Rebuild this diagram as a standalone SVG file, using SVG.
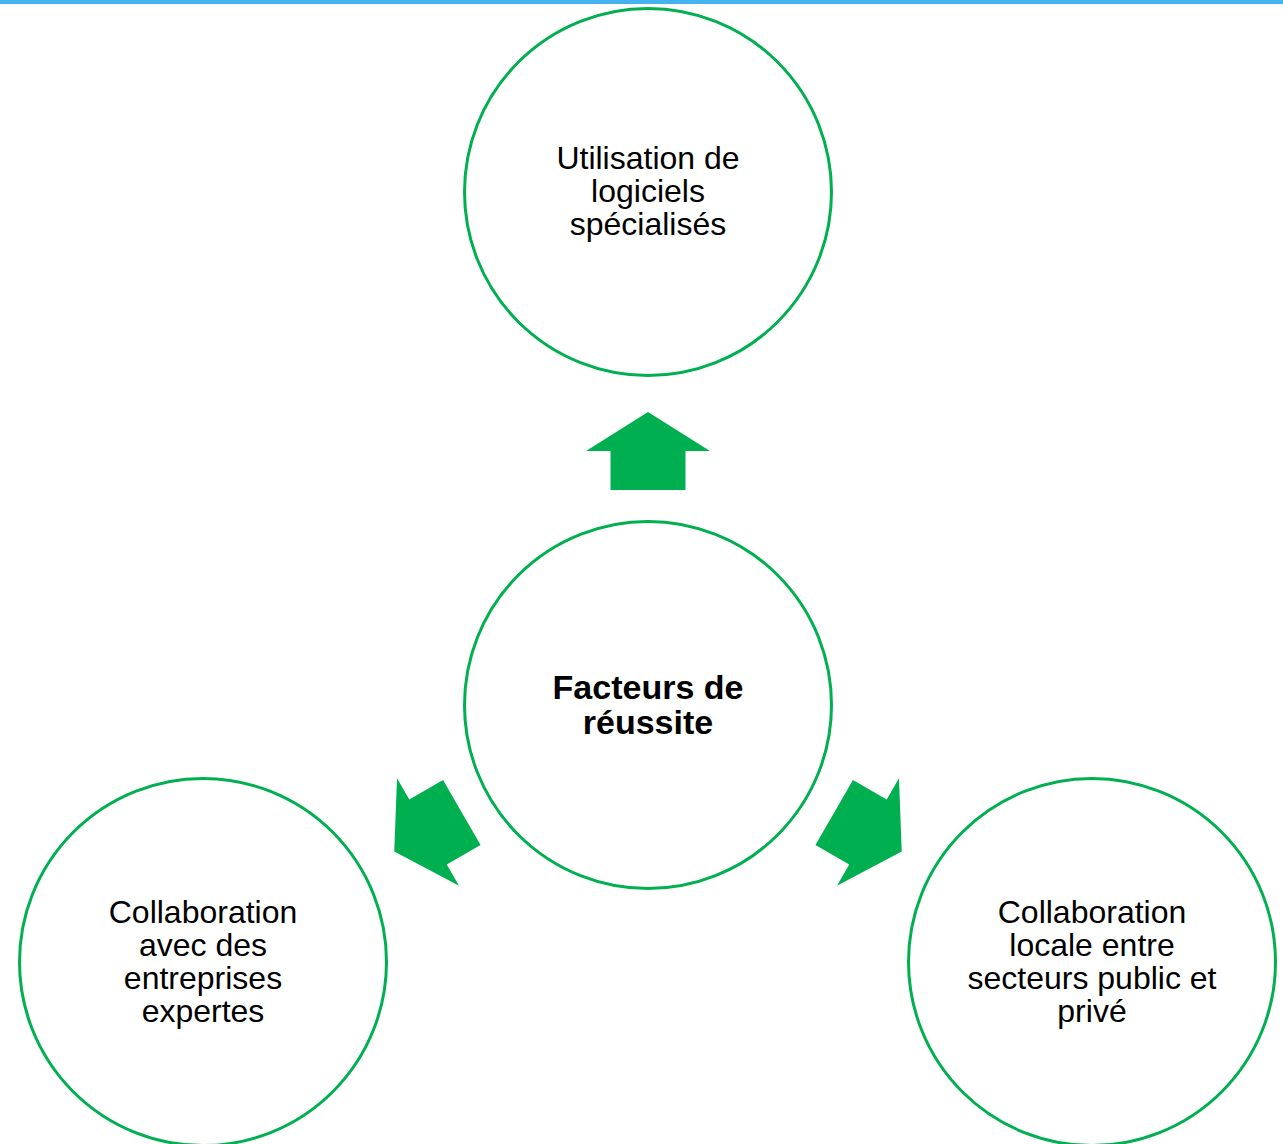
<svg xmlns="http://www.w3.org/2000/svg" xmlns:xlink="http://www.w3.org/1999/xlink" width="1283" height="1144" viewBox="0 0 1283 1144">
<style>
.c{fill:#ffffff;stroke:#00b050;stroke-width:3}
.t{font-family:"Liberation Sans",Arial,sans-serif;font-size:32px;fill:#000000;text-anchor:middle}
.b{font-weight:bold;font-size:34px}
.a{fill:#00b050}
</style>
<defs>
<path id="arr" d="M648,412 L710,451 L685.5,451 L685.5,490 L610.5,490 L610.5,451 L586,451 Z"/>
</defs>
<rect width="1283" height="1144" fill="#ffffff"/>
<rect x="0" y="0" width="1283" height="4" fill="#45b3f0"/>
<g id="connectors">
<use xlink:href="#arr" class="a"/>
<use xlink:href="#arr" class="a" transform="rotate(-120 648 705)"/>
<use xlink:href="#arr" class="a" transform="rotate(120 648 705)"/>
</g>
<g id="node-top">
<circle class="c" cx="648" cy="192" r="183.5"/>
<text class="t" x="648" y="169">Utilisation de</text>
<text class="t" x="648" y="202">logiciels</text>
<text class="t" x="648" y="235">spécialisés</text>
</g>
<g id="node-center">
<circle class="c" cx="648" cy="705" r="183.5"/>
<text class="t b" x="648" y="699">Facteurs de</text>
<text class="t b" x="648" y="734">réussite</text>
</g>
<g id="node-left">
<circle class="c" cx="203" cy="962" r="183.5"/>
<text class="t" x="203" y="923">Collaboration</text>
<text class="t" x="203" y="956">avec des</text>
<text class="t" x="203" y="989">entreprises</text>
<text class="t" x="203" y="1022">expertes</text>
</g>
<g id="node-right">
<circle class="c" cx="1092" cy="962" r="183.5"/>
<text class="t" x="1092" y="923">Collaboration</text>
<text class="t" x="1092" y="956">locale entre</text>
<text class="t" x="1092" y="989">secteurs public et</text>
<text class="t" x="1092" y="1022">privé</text>
</g>
</svg>
